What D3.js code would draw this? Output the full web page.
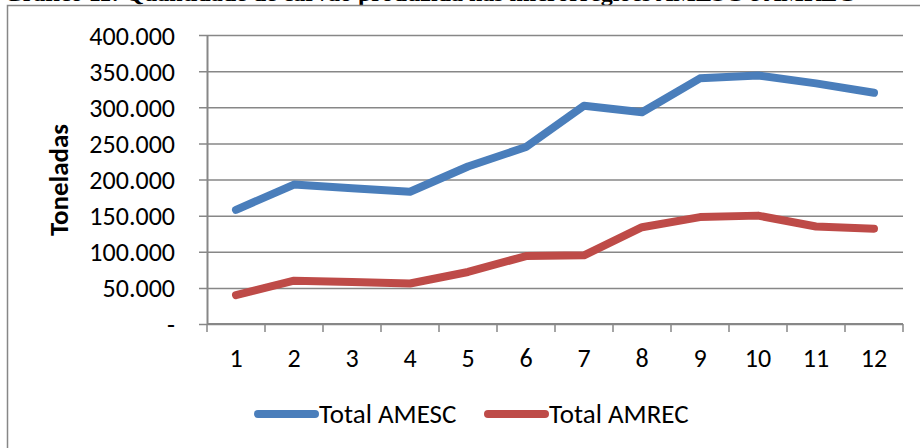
<!DOCTYPE html>
<html>
<head>
<meta charset="utf-8">
<script src="https://cdn.jsdelivr.net/npm/d3@7"></script>
<style>
  html, body { margin: 0; padding: 0; background: #fff; }
  svg { display: block; }
</style>
</head>
<body>
<svg id="chart" width="920" height="448"></svg>
<script>
// Tonnes per period for the two regions
const categories = ["1", "2", "3", "4", "5", "6", "7", "8", "9", "10", "11", "12"];
const totalAMESC = [158000, 193000, 188000, 183000, 218000, 245000, 302000, 293000, 340000, 344000, 333000, 320000];
const totalAMREC = [40000, 60000, 58000, 56000, 72000, 94000, 95000, 134000, 148000, 150000, 135000, 132000];
const yTicks = [0, 50000, 100000, 150000, 200000, 250000, 300000, 350000, 400000];
const seriesNames = ["Total AMESC", "Total AMREC"];
const seriesColors = ["#4a7ebb", "#be4b48"];

const svg = d3.select("#chart");
const font = "Carlito, Calibri, 'Liberation Sans', Arial, sans-serif";
const grid = "#878787";

// caption above the chart box (mostly cut off by the top edge)
svg.append("text")
  .attr("x", 4).attr("y", 1)
  .attr("font-family", "'Liberation Serif', 'Times New Roman', serif")
  .attr("font-weight", "bold").attr("font-size", 24)
  .text("Gráfico 11: Quantidade de carvão produzida nas microrregiões AMESC e AMREC");

// chart box
svg.append("rect")
  .attr("x", 7.5).attr("y", 5.5).attr("width", 920).attr("height", 460)
  .attr("fill", "#fff").attr("stroke", grid).attr("stroke-width", 1.5);

const plotL = 207, plotR = 903, plotT = 35, plotB = 324;

const x = d3.scaleBand().domain(categories).range([plotL, plotR]).padding(0);
const y = d3.scaleLinear().domain([0, 400000]).range([plotB, plotT]);

const fmt = v => v === 0 ? "-" : d3.format(",")(v).replace(/,/g, ".");

// horizontal gridlines + y axis
const yAxis = d3.axisLeft(y).tickValues(yTicks).tickFormat(fmt)
  .tickSize(-(plotR - plotL)).tickSizeOuter(0).tickPadding(32);
const gy = svg.append("g").attr("transform", `translate(${plotL},0)`).call(yAxis);
gy.select(".domain").attr("stroke", grid).attr("stroke-width", 2);
gy.selectAll(".tick line").attr("stroke", grid).attr("stroke-width", 1.5)
  .attr("x1", -8);
gy.selectAll(".tick text").attr("font-family", font).attr("font-size", 26)
  .attr("fill", "#000").attr("dy", "0.35em");

// x axis with ticks between categories
const gx = svg.append("g").attr("transform", `translate(0,${plotB})`);
gx.append("line").attr("x1", plotL).attr("x2", plotR).attr("stroke", grid).attr("stroke-width", 2);
const bounds = categories.map(c => x(c)).concat([plotR]);
gx.selectAll(".xt").data(bounds).join("line")
  .attr("x1", d => d).attr("x2", d => d).attr("y1", 0).attr("y2", 8)
  .attr("stroke", grid).attr("stroke-width", 1.5);
gx.selectAll(".xl").data(categories).join("text")
  .attr("x", d => x(d) + x.bandwidth() / 2).attr("y", 43)
  .attr("text-anchor", "middle")
  .attr("font-family", font).attr("font-size", 26).attr("fill", "#000")
  .text(d => d);

// y axis title
svg.append("text")
  .attr("transform", `translate(68,180) rotate(-90)`)
  .attr("text-anchor", "middle")
  .attr("font-family", font).attr("font-weight", "bold").attr("font-size", 27)
  .text("Toneladas");

// series lines
const line = d3.line()
  .x((d, i) => x(categories[i]) + x.bandwidth() / 2)
  .y(d => y(d));
[totalAMESC, totalAMREC].forEach((vals, k) => {
  svg.append("path").datum(vals)
    .attr("d", line).attr("fill", "none")
    .attr("stroke", seriesColors[k]).attr("stroke-width", 8)
    .attr("stroke-linecap", "round").attr("stroke-linejoin", "round");
});

// legend
const legendX = [258, 488];
seriesNames.forEach((name, k) => {
  const g = svg.append("g").attr("transform", `translate(${legendX[k]},414)`);
  g.append("line").attr("x1", 0).attr("x2", 57)
    .attr("stroke", seriesColors[k]).attr("stroke-width", 8).attr("stroke-linecap", "round");
  g.append("text").attr("x", 61).attr("dy", "0.33em")
    .attr("font-family", font).attr("font-size", 27).attr("fill", "#000")
    .text(name);
});
</script>
</body>
</html>
